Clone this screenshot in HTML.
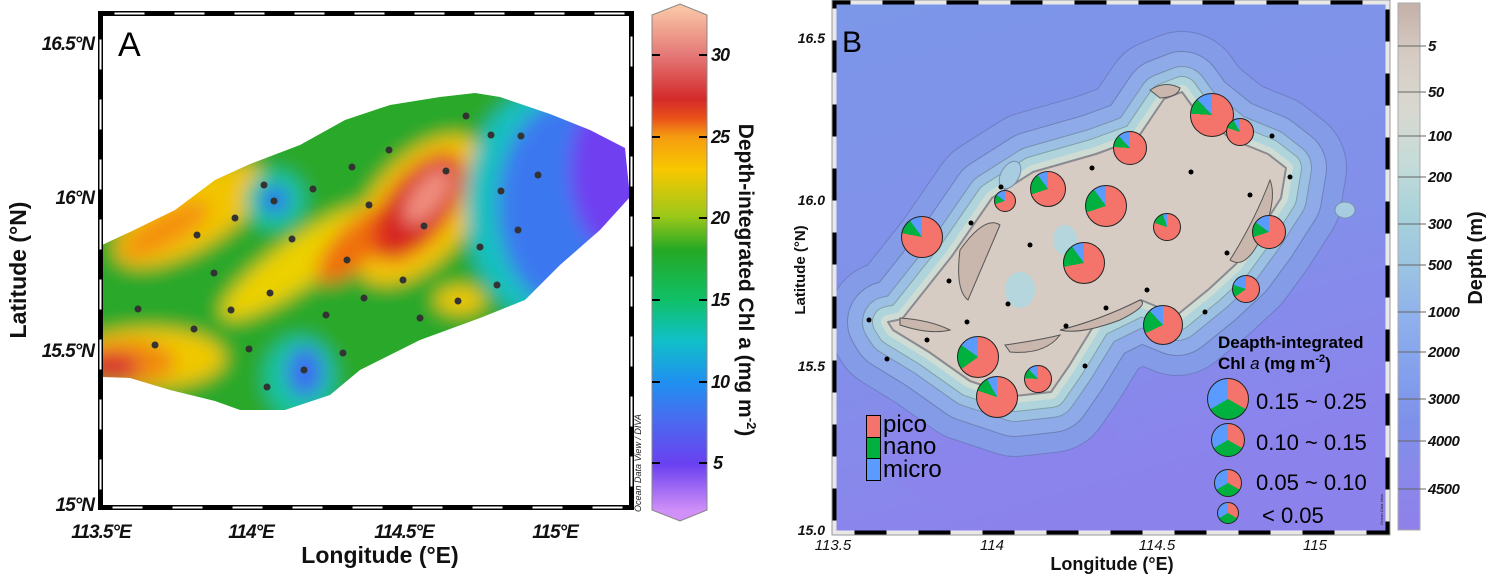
<!DOCTYPE html>
<html><head><meta charset="utf-8"><style>
html,body{margin:0;padding:0;background:#fff;}
body{width:1488px;height:577px;position:relative;overflow:hidden;font-family:"Liberation Sans",sans-serif;}
.pie{position:absolute;border-radius:50%;border:1px solid #222;box-sizing:border-box;}
</style></head><body>
<svg width="1488" height="577" style="position:absolute;left:0;top:0">
<defs>
<clipPath id="cA"><polygon points="102,245 130,232 175,210 215,180 250,164 300,145 345,120 390,105 440,97 475,93 500,97 550,114 590,130 625,148 630,197 600,230 560,265 525,300 480,318 420,340 360,370 330,395 285,410 240,410 215,401 170,390 130,378 102,377"/></clipPath>
<clipPath id="cB"><rect x="834" y="2" width="554" height="531"/></clipPath>
<filter id="bl" x="-20%" y="-20%" width="140%" height="140%"><feGaussianBlur stdDeviation="9"/></filter>
<linearGradient id="gA" x1="0" y1="0" x2="0" y2="1">
<stop offset="0.01" stop-color="#f9c4a4"/><stop offset="0.097" stop-color="#e57a78"/><stop offset="0.184" stop-color="#d42a2a"/><stop offset="0.22" stop-color="#e8501a"/><stop offset="0.256" stop-color="#f59a10"/><stop offset="0.32" stop-color="#f8c800"/><stop offset="0.41" stop-color="#9cc81a"/><stop offset="0.476" stop-color="#24a824"/><stop offset="0.573" stop-color="#10c068"/><stop offset="0.65" stop-color="#10c0c8"/><stop offset="0.732" stop-color="#2090f0"/><stop offset="0.806" stop-color="#4a6af0"/><stop offset="0.89" stop-color="#6a40f0"/><stop offset="0.98" stop-color="#d090f8"/></linearGradient>
<linearGradient id="gB" x1="0" y1="0" x2="0" y2="1">
<stop offset="0" stop-color="#c4b0a8"/><stop offset="0.1" stop-color="#d6ccc4"/><stop offset="0.2" stop-color="#d8d8d0"/><stop offset="0.3" stop-color="#c6dcd8"/><stop offset="0.4" stop-color="#a8d2da"/><stop offset="0.5" stop-color="#9cc4e2"/><stop offset="0.6" stop-color="#8eb0ec"/><stop offset="0.7" stop-color="#84a0ec"/><stop offset="0.8" stop-color="#7e90ea"/><stop offset="0.9" stop-color="#8a88ea"/><stop offset="1" stop-color="#9080ea"/></linearGradient>
<linearGradient id="bgB" x1="0" y1="0" x2="0.3" y2="1"><stop offset="0" stop-color="#7c96e8"/><stop offset="0.6" stop-color="#8290ea"/><stop offset="1" stop-color="#8c82ec"/></linearGradient>
<path id="isl" d="M888,322 L902,319 L952,256 L992,198 L1033,172 L1096,154 L1137,139 L1164,99 L1182,92 L1195,110 L1231,139 L1268,154 L1286,168 L1281,198 L1258,234 L1236,264 L1209,289 L1177,315 L1141,300 L1096,322 L1069,366 L1051,392 L1015,396 L970,381 L929,352 L893,330 Z"/>
</defs>

<!-- Panel A heatmap -->
<g clip-path="url(#cA)"><g filter="url(#bl)">
<rect x="60" y="60" width="620" height="400" fill="#2aa82a"/>
<ellipse cx="190" cy="215" rx="85" ry="35" transform="rotate(-30 190 215)" fill="#f2c400"/>
<ellipse cx="165" cy="230" rx="50" ry="16" transform="rotate(-30 165 230)" fill="#f49010"/>
<ellipse cx="300" cy="262" rx="95" ry="24" transform="rotate(-35 300 262)" fill="#ecd000"/>
<ellipse cx="420" cy="210" rx="88" ry="50" transform="rotate(-50 420 210)" fill="#f4c400"/>
<ellipse cx="355" cy="245" rx="50" ry="20" transform="rotate(-45 355 245)" fill="#f07010"/>
<ellipse cx="418" cy="207" rx="64" ry="32" transform="rotate(-52 418 207)" fill="#e03818"/>
<ellipse cx="420" cy="205" rx="52" ry="24" transform="rotate(-52 420 205)" fill="#d42020"/>
<ellipse cx="428" cy="196" rx="34" ry="15" transform="rotate(-52 428 196)" fill="#f09080"/>
<circle cx="275" cy="200" r="30" fill="#14c4a0"/>
<circle cx="275" cy="200" r="14" fill="#3070f0"/>
<ellipse cx="545" cy="205" rx="80" ry="115" fill="#14c0c0"/>
<ellipse cx="570" cy="205" rx="72" ry="105" fill="#3a78f0"/>
<ellipse cx="615" cy="170" rx="45" ry="80" fill="#7040f0"/>
<ellipse cx="460" cy="300" rx="25" ry="14" fill="#f0c800"/>
<ellipse cx="150" cy="358" rx="75" ry="30" fill="#f0c800"/>
<ellipse cx="128" cy="362" rx="48" ry="22" fill="#f08a10"/>
<ellipse cx="110" cy="367" rx="30" ry="14" fill="#d83030"/>
<ellipse cx="300" cy="378" rx="36" ry="42" fill="#14c4a0"/>
<ellipse cx="305" cy="372" rx="18" ry="25" fill="#3a70f0"/>
</g></g>
<g fill="#333">
<circle cx="466" cy="116" r="3.5"/><circle cx="491" cy="135" r="3.5"/><circle cx="521" cy="136" r="3.5"/><circle cx="389" cy="150" r="3.5"/><circle cx="352" cy="167" r="3.5"/><circle cx="446" cy="171" r="3.5"/><circle cx="538" cy="175" r="3.5"/><circle cx="264" cy="185" r="3.5"/><circle cx="313" cy="189" r="3.5"/><circle cx="501" cy="191" r="3.5"/><circle cx="274" cy="201" r="3.5"/><circle cx="369" cy="205" r="3.5"/><circle cx="235" cy="218" r="3.5"/><circle cx="424" cy="226" r="3.5"/><circle cx="518" cy="230" r="3.5"/><circle cx="197" cy="235" r="3.5"/><circle cx="292" cy="239" r="3.5"/><circle cx="480" cy="247" r="3.5"/><circle cx="347" cy="260" r="3.5"/><circle cx="214" cy="273" r="3.5"/><circle cx="403" cy="280" r="3.5"/><circle cx="497" cy="285" r="3.5"/><circle cx="270" cy="293" r="3.5"/><circle cx="364" cy="298" r="3.5"/><circle cx="458" cy="301" r="3.5"/><circle cx="138" cy="309" r="3.5"/><circle cx="231" cy="310" r="3.5"/><circle cx="326" cy="315" r="3.5"/><circle cx="420" cy="318" r="3.5"/><circle cx="194" cy="329" r="3.5"/><circle cx="155" cy="345" r="3.5"/><circle cx="249" cy="349" r="3.5"/><circle cx="343" cy="353" r="3.5"/><circle cx="304" cy="370" r="3.5"/><circle cx="267" cy="387" r="3.5"/>
</g>
<!-- Frame A -->
<rect x="100.5" y="13.5" width="531" height="494" fill="none" stroke="#000" stroke-width="5"/>
<rect x="100.5" y="13.5" width="531" height="494" fill="none" stroke="#fff" stroke-width="2" stroke-dasharray="30 30" stroke-dashoffset="-14"/>
<text x="641" y="512" transform="rotate(-90 641 512)" font-family="Liberation Sans" font-style="italic" font-size="9" fill="#222">Ocean Data View / DIVA</text>

<!-- Colorbar A -->
<polygon points="652,15 680,4 707,15 707,510 680,521 652,510" fill="url(#gA)" stroke="#888" stroke-width="1"/>
<g stroke="#000" stroke-width="2">
<line x1="652" y1="55" x2="660" y2="55"/><line x1="699" y1="55" x2="707" y2="55"/>
<line x1="652" y1="137" x2="660" y2="137"/><line x1="699" y1="137" x2="707" y2="137"/>
<line x1="652" y1="218" x2="660" y2="218"/><line x1="699" y1="218" x2="707" y2="218"/>
<line x1="652" y1="300" x2="660" y2="300"/><line x1="699" y1="300" x2="707" y2="300"/>
<line x1="652" y1="382" x2="660" y2="382"/><line x1="699" y1="382" x2="707" y2="382"/>
<line x1="652" y1="463" x2="660" y2="463"/><line x1="699" y1="463" x2="707" y2="463"/>
</g>

<!-- Panel B map -->
<g clip-path="url(#cB)">
<rect x="834" y="2" width="554" height="531" fill="url(#bgB)"/>
<ellipse cx="1000" cy="450" rx="120" ry="60" fill="#8c84ec" opacity="0.6"/>
<g stroke-linejoin="round" stroke-linecap="round">
<use href="#isl" fill="#7f92e8" stroke="#6e7cc0" stroke-width="122" opacity="0.9"/>
<use href="#isl" fill="#869ee8" stroke="#849be8" stroke-width="120"/>
<use href="#isl" fill="#8fa9e8" stroke="#6e80b8" stroke-width="82"/>
<use href="#isl" fill="#8fa9e8" stroke="#8eaae8" stroke-width="80"/>
<use href="#isl" fill="#9cc0e4" stroke="#7890b0" stroke-width="52"/>
<use href="#isl" fill="#9cc0e4" stroke="#9cc0e4" stroke-width="50"/>
<use href="#isl" fill="#b0d4dc" stroke="#80a0a8" stroke-width="32"/>
<use href="#isl" fill="#b0d4dc" stroke="#b0d4dc" stroke-width="30"/>
<use href="#isl" fill="#cfdcd4" stroke="#cfdcd4" stroke-width="14"/>
<use href="#isl" fill="#d6ccc4" stroke="#8a8a90" stroke-width="2"/>
</g>
<g fill="#c9b6ad" stroke="#555" stroke-width="1">
<path d="M1150,90 Q1165,80 1180,88 Q1178,97 1160,98 Z"/>
<path d="M960,250 Q985,215 1000,225 Q985,260 968,300 Q955,290 960,250 Z"/>
<path d="M1230,260 Q1255,220 1270,180 Q1278,200 1260,240 Q1245,270 1230,260 Z"/>
<path d="M900,318 Q930,320 950,330 Q930,335 900,325 Z"/>
<path d="M1060,330 Q1100,320 1140,300 Q1150,305 1120,320 Q1080,335 1060,330 Z"/>
<path d="M1005,345 Q1040,340 1060,335 Q1045,355 1010,352 Z"/>
</g>
<ellipse cx="1065" cy="240" rx="12" ry="15" fill="#b4d6dc"/>
<ellipse cx="1020" cy="290" rx="15" ry="18" fill="#b4d6dc"/>
<ellipse cx="1010" cy="175" rx="9" ry="15" fill="#a8cce0" stroke="#7a90b0" stroke-width="1" transform="rotate(30 1010 175)"/>
<ellipse cx="1345" cy="210" rx="10" ry="8" fill="#a8cce0" stroke="#7a90b0" stroke-width="1"/>
</g>
<g fill="#000">
<circle cx="1272" cy="136" r="2.5"/><circle cx="1092" cy="168" r="2.5"/><circle cx="1191" cy="172" r="2.5"/><circle cx="1290" cy="177" r="2.5"/><circle cx="1250" cy="195" r="2.5"/><circle cx="1001" cy="187" r="2.5"/><circle cx="971" cy="223" r="2.5"/><circle cx="1030" cy="245" r="2.5"/><circle cx="1227" cy="253" r="2.5"/><circle cx="949" cy="281" r="2.5"/><circle cx="1147" cy="290" r="2.5"/><circle cx="1008" cy="304" r="2.5"/><circle cx="1106" cy="308" r="2.5"/><circle cx="1205" cy="312" r="2.5"/><circle cx="869" cy="320" r="2.5"/><circle cx="967" cy="322" r="2.5"/><circle cx="1066" cy="326" r="2.5"/><circle cx="927" cy="340" r="2.5"/><circle cx="887" cy="359" r="2.5"/><circle cx="1085" cy="366" r="2.5"/>
</g>
<!-- Frame B -->
<rect x="834.5" y="2.5" width="553" height="530" fill="none" stroke="#000" stroke-width="4"/>
<rect x="834.5" y="2.5" width="553" height="530" fill="none" stroke="#e8e8e8" stroke-width="4" stroke-dasharray="32 32" stroke-dashoffset="-16"/>
<rect x="832" y="0" width="558" height="535" fill="none" stroke="#999" stroke-width="1"/>
<text x="1383" y="525" transform="rotate(-90 1383 525)" font-family="Liberation Sans" font-style="italic" font-size="4" fill="#222">Ocean Data View</text>
<!-- Colorbar B -->
<rect x="1398" y="3" width="22" height="527" fill="url(#gB)" stroke="#aaa" stroke-width="1"/>
<g stroke="#666" stroke-width="1">
<line x1="1398" y1="46" x2="1426" y2="46"/><line x1="1398" y1="92" x2="1426" y2="92"/><line x1="1398" y1="136" x2="1426" y2="136"/><line x1="1398" y1="177" x2="1426" y2="177"/><line x1="1398" y1="224" x2="1426" y2="224"/><line x1="1398" y1="265" x2="1426" y2="265"/><line x1="1398" y1="312" x2="1426" y2="312"/><line x1="1398" y1="352" x2="1426" y2="352"/><line x1="1398" y1="399" x2="1426" y2="399"/><line x1="1398" y1="441" x2="1426" y2="441"/><line x1="1398" y1="489" x2="1426" y2="489"/>
</g>
<!-- legend squares -->
<rect x="866.5" y="415.5" width="14" height="22" fill="#f4736a" stroke="#000"/>
<rect x="866.5" y="437.5" width="14" height="21" fill="#00b140" stroke="#000"/>
<rect x="866.5" y="458.5" width="14" height="22" fill="#5b9bff" stroke="#000"/>

<!-- Text A -->
<g font-family="Liberation Sans" font-weight="bold" font-style="italic" font-size="19" fill="#111" text-anchor="end" letter-spacing="-1">
<text x="94" y="50">16.5°N</text><text x="94" y="204">16°N</text><text x="94" y="357">15.5°N</text><text x="94" y="511">15°N</text>
</g>
<g font-family="Liberation Sans" font-weight="bold" font-style="italic" font-size="19" fill="#111" text-anchor="middle" letter-spacing="-1">
<text x="101" y="538">113.5°E</text><text x="251" y="538">114°E</text><text x="404" y="538">114.5°E</text><text x="555" y="538">115°E</text>
</g>
<text x="380" y="563" font-family="Liberation Sans" font-weight="bold" font-size="23" text-anchor="middle" fill="#111">Longitude (°E)</text>
<text x="26" y="270" transform="rotate(-90 26 270)" font-family="Liberation Sans" font-weight="bold" font-size="23" text-anchor="middle" fill="#111">Latitude (°N)</text>
<text x="118" y="56" font-family="Liberation Sans" font-size="34" fill="#000">A</text>
<g font-family="Liberation Sans" font-weight="bold" font-style="italic" font-size="18" fill="#111" letter-spacing="-1">
<text x="711" y="61">30</text><text x="711" y="143">25</text><text x="711" y="224">20</text><text x="711" y="306">15</text><text x="711" y="388">10</text><text x="713" y="469">5</text>
</g>
<text x="739" y="280" transform="rotate(90 739 280)" font-family="Liberation Sans" font-weight="bold" font-size="21" text-anchor="middle" fill="#111">Depth-integrated Chl <tspan font-style="normal">a</tspan> (mg m<tspan font-size="13" dy="-8">-2</tspan><tspan dy="8">)</tspan></text>

<!-- Text B -->
<g font-family="Liberation Sans" font-weight="bold" font-style="italic" font-size="14" fill="#111" text-anchor="end">
<text x="825" y="43">16.5</text><text x="825" y="205">16.0</text><text x="825" y="371">15.5</text><text x="825" y="535">15.0</text>
</g>
<g font-family="Liberation Sans" font-style="italic" font-size="15" fill="#111" text-anchor="middle">
<text x="833" y="550">113.5</text><text x="992" y="550">114</text><text x="1157" y="550">114.5</text><text x="1315" y="550">115</text>
</g>
<text x="1112" y="570" font-family="Liberation Sans" font-weight="bold" font-size="18" text-anchor="middle" fill="#111">Longitude (°E)</text>
<text x="805" y="270" transform="rotate(-90 805 270)" font-family="Liberation Sans" font-weight="bold" font-size="15" text-anchor="middle" fill="#111">Latitude (°N)</text>
<text x="842" y="52" font-family="Liberation Sans" font-size="30" fill="#000">B</text>
<g font-family="Liberation Sans" font-weight="bold" font-style="italic" font-size="15" fill="#111" letter-spacing="-0.5">
<text x="1428" y="51">5</text><text x="1428" y="97">50</text><text x="1428" y="141">100</text><text x="1428" y="182">200</text><text x="1428" y="229">300</text><text x="1428" y="270">500</text><text x="1428" y="317">1000</text><text x="1428" y="357">2000</text><text x="1428" y="404">3000</text><text x="1428" y="446">4000</text><text x="1428" y="494">4500</text>
</g>
<text x="1482" y="258" transform="rotate(-90 1482 258)" font-family="Liberation Sans" font-weight="bold" font-size="20" text-anchor="middle" fill="#111">Depth (m)</text>
<g font-family="Liberation Sans" font-size="24" fill="#000">
<text x="883" y="432">pico</text><text x="883" y="454">nano</text><text x="883" y="477">micro</text>
</g>
<g font-family="Liberation Sans" font-weight="bold" font-size="17" fill="#000">
<text x="1218" y="348">Deapth-integrated</text>
<text x="1218" y="369">Chl <tspan font-style="italic" font-weight="normal">a</tspan> (mg m<tspan font-size="11" dy="-7">-2</tspan><tspan dy="7">)</tspan></text>
</g>
<g font-family="Liberation Sans" font-size="22" fill="#000">
<text x="1256" y="409">0.15 ~ 0.25</text><text x="1256" y="450">0.10 ~ 0.15</text><text x="1256" y="490">0.05 ~ 0.10</text><text x="1262" y="523">&lt; 0.05</text>
</g>
</svg>

<div class="pie" style="left:1190px;top:93px;width:44px;height:44px;background:conic-gradient(#f4736a 0 76%,#00b140 76% 88%,#5b9bff 88% 100%)"></div>
<div class="pie" style="left:1226px;top:118px;width:28px;height:28px;background:conic-gradient(#f4736a 0 80%,#00b140 80% 92%,#5b9bff 92% 100%)"></div>
<div class="pie" style="left:1113px;top:131px;width:34px;height:34px;background:conic-gradient(#f4736a 0 76%,#00b140 76% 88%,#5b9bff 88% 100%)"></div>
<div class="pie" style="left:1030px;top:171px;width:36px;height:36px;background:conic-gradient(#f4736a 0 70%,#00b140 70% 90%,#5b9bff 90% 100%)"></div>
<div class="pie" style="left:994px;top:190px;width:22px;height:22px;background:conic-gradient(#f4736a 0 70%,#00b140 70% 85%,#5b9bff 85% 100%)"></div>
<div class="pie" style="left:1085px;top:185px;width:42px;height:42px;background:conic-gradient(#f4736a 0 70%,#00b140 70% 90%,#5b9bff 90% 100%)"></div>
<div class="pie" style="left:901px;top:216px;width:42px;height:42px;background:conic-gradient(#f4736a 0 78%,#00b140 78% 90%,#5b9bff 90% 100%)"></div>
<div class="pie" style="left:1153px;top:213px;width:28px;height:28px;background:conic-gradient(#f4736a 0 80%,#00b140 80% 95%,#5b9bff 95% 100%)"></div>
<div class="pie" style="left:1252px;top:215px;width:34px;height:34px;background:conic-gradient(#f4736a 0 70%,#00b140 70% 85%,#5b9bff 85% 100%)"></div>
<div class="pie" style="left:1063px;top:242px;width:42px;height:42px;background:conic-gradient(#f4736a 0 72%,#00b140 72% 90%,#5b9bff 90% 100%)"></div>
<div class="pie" style="left:1232px;top:275px;width:28px;height:28px;background:conic-gradient(#f4736a 0 65%,#00b140 65% 80%,#5b9bff 80% 100%)"></div>
<div class="pie" style="left:1143px;top:305px;width:40px;height:40px;background:conic-gradient(#f4736a 0 68%,#00b140 68% 88%,#5b9bff 88% 100%)"></div>
<div class="pie" style="left:957px;top:336px;width:42px;height:42px;background:conic-gradient(#f4736a 0 65%,#00b140 65% 85%,#5b9bff 85% 100%)"></div>
<div class="pie" style="left:1024px;top:365px;width:28px;height:28px;background:conic-gradient(#f4736a 0 76%,#00b140 76% 88%,#5b9bff 88% 100%)"></div>
<div class="pie" style="left:976px;top:376px;width:42px;height:42px;background:conic-gradient(#f4736a 0 80%,#00b140 80% 92%,#5b9bff 92% 100%)"></div>
<div class="pie" style="left:1207px;top:378px;width:42px;height:42px;background:conic-gradient(#f4736a 0 33.3%,#00b140 33.3% 66.7%,#5b9bff 66.7% 100%)"></div>
<div class="pie" style="left:1211px;top:423px;width:34px;height:34px;background:conic-gradient(#f4736a 0 33.3%,#00b140 33.3% 66.7%,#5b9bff 66.7% 100%)"></div>
<div class="pie" style="left:1214px;top:469px;width:28px;height:28px;background:conic-gradient(#f4736a 0 33.3%,#00b140 33.3% 66.7%,#5b9bff 66.7% 100%)"></div>
<div class="pie" style="left:1217px;top:502px;width:22px;height:22px;background:conic-gradient(#f4736a 0 33.3%,#00b140 33.3% 66.7%,#5b9bff 66.7% 100%)"></div>
</body></html>
